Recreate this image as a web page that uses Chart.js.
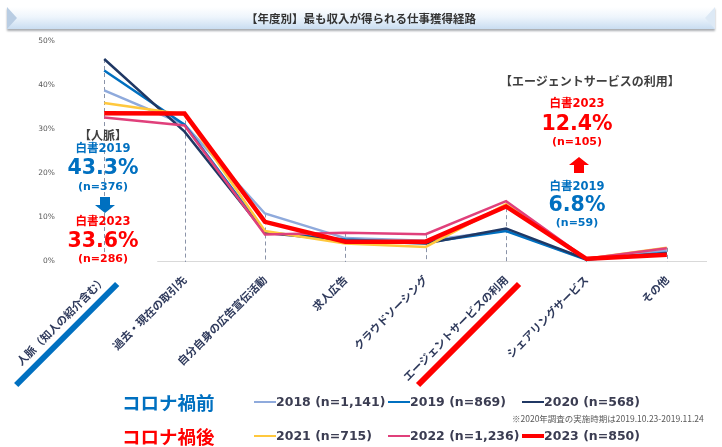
<!DOCTYPE html>
<html>
<head>
<meta charset="utf-8">
<script src="https://cdn.jsdelivr.net/npm/chart.js@4.4.1/dist/chart.umd.min.js"></script>
<style>
  body { margin: 0; background: #fff; }
  #wrap { position: relative; width: 722px; height: 447px; overflow: hidden; }
  #wrap canvas { position: absolute; left: 0; top: 0; }
  .t { position: absolute; white-space: nowrap; text-align: center; font-family: "DejaVu Sans", "Noto Sans CJK JP", sans-serif; font-weight: bold; }
  #titlebar { position: absolute; left: 7px; top: 7px; width: 708px; height: 22px;
    background: linear-gradient(#ffffff 0%, #eef5fc 45%, #c9ddf1 100%);
    box-shadow: 0 2px 2px #a9acb0; }
  #titlebar:before { content: ""; position: absolute; left: 0; top: 0; width: 10px; height: 22px;
    background: #b9cde3; clip-path: polygon(0 0, 100% 50%, 0 100%); }
  #titlebar:after { content: ""; position: absolute; right: 0; top: 0; width: 10px; height: 22px;
    background: #dde9f5; clip-path: polygon(100% 0, 0 50%, 100% 100%); }
  .arrow { position: absolute; }
</style>
</head>
<body>
<div id="wrap">
  <canvas id="myChart" width="722" height="447"></canvas>
  <div id="titlebar"></div>
  <div class="t" style="left:161px;top:10px;width:400px;font-size:11.5px;color:#333;font-family:'Noto Sans CJK JP';">【年度別】最も収入が得られる仕事獲得経路</div>
</div>
<script>
var labels = ['人脈（知人の紹介含む）', '過去・現在の取引先', '自分自身の広告宣伝活動', '求人広告',
  'クラウドソーシング', 'エージェントサービスの利用', 'シェアリングサービス', 'その他'];

var years = ['2018 (n=1,141)', '2019 (n=869)', '2020 (n=568)', '2021 (n=715)', '2022 (n=1,236)', '2023 (n=850)'];

var data_2018 = [38.8, 31.0, 10.8, 5.2, 4.6, 7.0, 0.4, 2.4];
var data_2019 = [43.3, 31.0, 6.5, 4.9, 4.2, 6.8, 0.3, 1.9];
var data_2020 = [45.9, 29.4, 6.4, 4.6, 4.0, 7.4, 0.4, 1.7];
var data_2021 = [35.9, 33.3, 6.8, 4.0, 3.2, 12.9, 0.5, 3.0];
var data_2022 = [32.6, 30.8, 6.0, 6.4, 6.1, 13.6, 0.5, 2.9];
var data_2023 = [33.6, 33.5, 8.9, 4.4, 4.4, 12.4, 0.5, 1.4];

var yTicks = [0, 10, 20, 30, 40, 50];

var colors = ['#8faadc', '#0070c0', '#203864', '#ffc83d', '#e0407b', '#ff0000'];
var widths = [2.5, 2.5, 2.5, 2.5, 2.5, 4.5];
var allData = [data_2018, data_2019, data_2020, data_2021, data_2022, data_2023];

var jp = '"Noto Sans CJK JP", sans-serif';

var datasets = allData.map(function (d, i) {
  return {
    label: years[i],
    data: d,
    borderColor: colors[i],
    borderWidth: widths[i],
    pointRadius: 0,
    tension: 0,
    order: i == 5 ? 0 : 6 - i
  };
});

// dashed drop lines + axis line + highlight stripes
var extras = {
  id: 'extras',
  beforeDatasetsDraw: function (chart) {
    var c = chart.ctx, x = chart.scales.x, y = chart.scales.y;
    var bottom = chart.chartArea.bottom;
    c.save();
    c.strokeStyle = '#d9d9d9';
    c.lineWidth = 1;
    c.beginPath();
    c.moveTo(x.getPixelForValue(0.66), bottom + 0.5);
    c.lineTo(chart.chartArea.right, bottom + 0.5);
    c.stroke();
    c.strokeStyle = '#8a93a8';
    c.setLineDash([4, 3]);
    labels.forEach(function (l, i) {
      var top = Math.max.apply(null, allData.map(function (d) { return d[i]; }));
      var px = Math.round(x.getPixelForValue(i)) + 0.5;
      c.beginPath();
      c.moveTo(px, y.getPixelForValue(top));
      c.lineTo(px, bottom + 1);
      c.stroke();
    });
    c.restore();
  },
  afterDraw: function (chart) {
    var c = chart.ctx, x = chart.scales.x;
    var bottom = chart.chartArea.bottom;
    var marks = [[0, '#0070c0'], [5, '#ff0000']];
    c.save();
    c.lineWidth = 6;
    marks.forEach(function (m) {
      var px = x.getPixelForValue(m[0]);
      c.strokeStyle = m[1];
      c.beginPath();
      c.moveTo(px - 88, bottom + 124);
      c.lineTo(px + 13, bottom + 23);
      c.stroke();
    });
    c.restore();
  }
};

var ctx = document.getElementById('myChart').getContext('2d');
var myChart = new Chart(ctx, {
  type: 'line',
  data: { labels: labels, datasets: datasets },
  plugins: [extras],
  options: {
    responsive: false,
    animation: false,
    layout: { padding: { left: 0, right: 15, top: 41, bottom: 0 } },
    plugins: { legend: { display: false }, tooltip: { enabled: false } },
    scales: {
      x: {
        offset: true,
        grid: { display: false, drawTicks: false },
        border: { display: false },
        ticks: {
          autoSkip: false,
          minRotation: 45,
          maxRotation: 45,
          padding: 12,
          color: '#2f3a5c',
          font: { family: jp, size: 11, weight: 'bold' }
        },
        afterFit: function (s) { s.height = 186; s.paddingLeft = 0; s.paddingRight = 0; }
      },
      y: {
        min: 0,
        max: 50,
        afterBuildTicks: function (s) { s.ticks = yTicks.map(function (v) { return { value: v }; }); },
        ticks: {
          padding: 9,
          color: '#595959',
          font: { family: '"DejaVu Sans"', size: 7.5 },
          callback: function (v) { return v + '%'; }
        },
        grid: { display: false, drawTicks: false },
        border: { display: false },
        afterFit: function (s) { s.width = 64; }
      }
    }
  }
});

// text overlays
var wrap = document.getElementById('wrap');
function txt(s, cx, cy, size, color, fam) {
  var d = document.createElement('div');
  d.className = 't';
  d.textContent = s;
  d.style.left = (cx - 150) + 'px';
  d.style.width = '300px';
  d.style.top = (cy - size * 0.7) + 'px';
  d.style.lineHeight = (size * 1.4) + 'px';
  d.style.fontSize = size + 'px';
  d.style.color = color;
  if (fam) d.style.fontFamily = fam;
  wrap.appendChild(d);
  return d;
}
function arrow(cx, top, color, up) {
  var d = document.createElement('div');
  d.className = 'arrow';
  d.style.left = (cx - 10) + 'px';
  d.style.top = top + 'px';
  d.style.width = '20px';
  d.style.height = '16px';
  d.style.background = color;
  d.style.clipPath = up
    ? 'polygon(50% 0, 100% 50%, 75% 50%, 75% 100%, 25% 100%, 25% 50%, 0 50%)'
    : 'polygon(25% 0, 75% 0, 75% 50%, 100% 50%, 50% 100%, 0 50%, 25% 50%)';
  wrap.appendChild(d);
}

var blue = '#0070c0', red = '#ff0000', grey = '#404040';

txt('【人脈】', 103, 135, 12, grey, jp);
txt('白書2019', 103, 148, 11.5, blue);
txt('43.3%', 103, 167, 20.5, blue);
txt('(n=376)', 103, 187, 11, blue);
arrow(105, 197, blue, false);
txt('白書2023', 103, 221, 11.5, red);
txt('33.6%', 103, 240, 20.5, red);
txt('(n=286)', 103, 259, 11, red);

txt('【エージェントサービスの利用】', 590, 81, 12, grey, jp);
txt('白書2023', 577, 103, 11.5, red);
txt('12.4%', 577, 123, 20.5, red);
txt('(n=105)', 577, 142, 11, red);
arrow(579, 157, red, true);
txt('白書2019', 577, 186, 11.5, blue);
txt('6.8%', 577, 204, 20.5, blue);
txt('(n=59)', 577, 223, 11, blue);

// legend
var groupNames = ['コロナ禍前', 'コロナ禍後'];
var rowY = [402, 436];
var itemX = [254, 388, 522];
groupNames.forEach(function (g, r) {
  var d = txt(g, 0, rowY[r] + 1, 18.5, r == 0 ? blue : red, jp);
  d.style.left = '122px';
  d.style.textAlign = 'left';
  for (var k = 0; k < 3; k++) {
    var i = r * 3 + k;
    var line = document.createElement('div');
    line.style.position = 'absolute';
    line.style.left = itemX[k] + 'px';
    line.style.width = '22px';
    line.style.height = (i == 5 ? 4 : 2.5) + 'px';
    line.style.top = (rowY[r] - (i == 5 ? 2 : 1.25)) + 'px';
    line.style.background = colors[i];
    wrap.appendChild(line);
    var t = txt(years[i], 0, rowY[r], 12.5, '#3b3d52');
    t.style.left = (itemX[k] + 22) + 'px';
    t.style.textAlign = 'left';
  }
});
var note = txt('※2020年調査の実施時期は2019.10.23-2019.11.24', 0, 419, 8.5, '#595959', jp);
note.style.left = '512px';
note.style.textAlign = 'left';
note.style.fontWeight = 'normal';
</script>
</body>
</html>
